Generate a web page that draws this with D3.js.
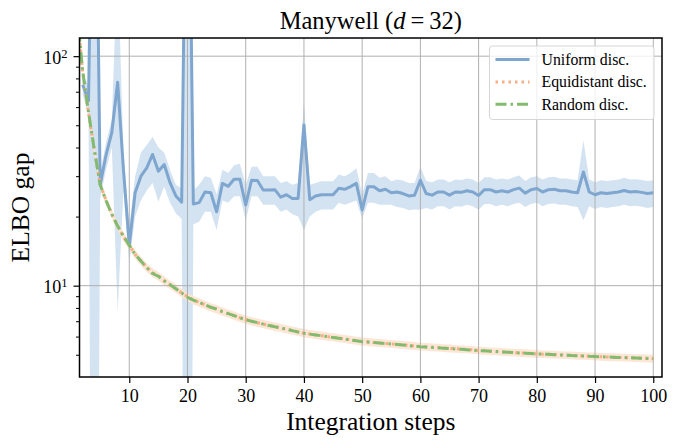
<!DOCTYPE html>
<html>
<head>
<meta charset="utf-8">
<script src="https://cdn.jsdelivr.net/npm/d3@7"></script>
<style>
  body { margin: 0; background: #fff; }
  svg text { font-family: "Liberation Serif", "DejaVu Serif", serif; fill: #000; }
</style>
</head>
<body>
<div id="chart"></div>
<script>

/**
 *  ELBO gap vs integration steps (Manywell, d = 32).
 */

// integration steps, 1 .. 100
var steps = d3.range(1, 101);

// Uniform discretisation: mean and band (null = no value)
var uniformMean = [null,
    75, 64, 3000, 27.5, 37, 46.5, 77, 32, 15,
    25.4, 30, 32.6, 37.3, 31.5, 33.7, 28.1, 24.6, 23.1, 3000,
    22.7, 23.0, 25.6, 25.4, 21.0, 27.9, 27.1, 29.1, 29.1, 22.5,
    28.8, 28.7, 26.1, 26.1, 26.2, 24.3, 24.9, 24.0, 24.0, 50.1,
    23.7, 24.6, 24.9, 24.9, 24.9, 26.6, 26.3, 27.0, 27.9, 21.4,
    27.0, 27.0, 25.9, 26.3, 25.4, 25.6, 25.2, 24.6, 24.8, 28.8,
    25.2, 24.8, 25.6, 25.6, 24.8, 25.6, 25.5, 25.9, 25.6, 24.7,
    26.2, 26.2, 25.6, 25.9, 25.6, 26.2, 26.6, 25.3, 26.2, 26.5,
    25.6, 26.2, 26.3, 25.9, 25.9, 25.6, 25.4, 31.3, 25.6, 24.9,
    25.4, 25.2, 25.4, 25.6, 26.0, 25.6, 25.7, 25.5, 25.2, 25.4];

var uniformLow = [null,
    68, 55, 0.001, 24, 32, 40, 7.7, 26, 12.5,
    20, 23.5, 26, 28, 23.2, 27, 23, 20.7, 19.5, 0.001,
    18.5, 19, 21, 21, 17.5, 23.5, 23, 24.5, 24.5, 19.3,
    24.5, 24.5, 22.5, 22.5, 22.5, 21, 21.5, 20.5, 20, 17.5,
    20, 21, 21.5, 21.5, 21.5, 23, 22.5, 23, 23.5, 19.6,
    23, 23, 22.5, 22.5, 22.5, 22, 21.8, 21.3, 21.5, 21.4,
    21.8, 21.5, 22.2, 22.2, 21.5, 22.2, 22.1, 22.5, 22.2, 21.4,
    22.7, 22.7, 22.2, 22.5, 22.2, 22.7, 23, 22, 22.7, 23,
    22.2, 22.7, 22.8, 22.5, 22.5, 22.2, 22, 19.3, 22.2, 21.6,
    22, 21.8, 22, 22.2, 22.5, 22.2, 22.3, 22.1, 21.8, 22];

var uniformHigh = [null,
    83, 75, 100000, 31, 42, 53, 260, 38, 18,
    30, 38, 41, 44.5, 40, 38, 32, 27.5, 26.5, 100000,
    26, 27.5, 30, 29.5, 25, 32, 31, 33.5, 34, 27.5,
    33, 33, 30, 30, 30, 28, 28.5, 27.5, 28, 63,
    27.5, 28, 28.5, 28.5, 28.5, 30.5, 30, 31, 32.5, 25,
    31, 31, 29.5, 30, 28.5, 29, 28.7, 28, 28, 33,
    28.6, 28.2, 29, 29, 28.2, 29, 28.9, 29.3, 29, 28,
    29.7, 29.7, 29, 29.3, 29, 29.7, 30.2, 28.6, 29.7, 30,
    29, 29.7, 29.8, 29.3, 29.3, 29, 28.8, 43, 29, 28.2,
    28.8, 28.6, 28.8, 29, 29.5, 29, 29.1, 28.9, 28.6, 28.8];

// Equidistant discretisation: mean and spread
var equiMean = [158,
    85, 56.5, 39, 27.6, 23.6, 20.5, 18.2, 16.4, 15.0,
    13.7, 12.8, 12.0, 11.4, 11.0, 10.5, 10.1, 9.7, 9.3, 8.95,
    8.65, 8.45, 8.25, 8.05, 7.9, 7.72, 7.56, 7.4, 7.25, 7.12,
    7.0, 6.9, 6.8, 6.72, 6.63, 6.55, 6.46, 6.38, 6.29, 6.21,
    6.16, 6.11, 6.06, 6.0, 5.96, 5.91, 5.86, 5.81, 5.76, 5.71,
    5.69, 5.66, 5.63, 5.6, 5.58, 5.55, 5.52, 5.49, 5.46, 5.43,
    5.41, 5.39, 5.37, 5.35, 5.33, 5.31, 5.29, 5.27, 5.25, 5.22,
    5.2, 5.18, 5.17, 5.15, 5.13, 5.11, 5.1, 5.08, 5.06, 5.05,
    5.03, 5.02, 5.01, 4.99, 4.98, 4.97, 4.95, 4.94, 4.93, 4.92,
    4.9, 4.89, 4.88, 4.87, 4.86, 4.85, 4.84, 4.83, 4.82, 4.81];

var equiSpread = [6,
    3.5, 2.4, 1.7, 1.2, 1.0, 0.9, 0.8, 0.7, 0.65,
    0.6, 0.56, 0.52, 0.5, 0.48, 0.46, 0.44, 0.42, 0.4, 0.38,
    0.37, 0.36, 0.35, 0.34, 0.33, 0.32, 0.32, 0.31, 0.3, 0.3,
    0.29, 0.29, 0.28, 0.28, 0.28, 0.27, 0.27, 0.26, 0.26, 0.26,
    0.25, 0.25, 0.25, 0.25, 0.24, 0.24, 0.24, 0.24, 0.23, 0.23,
    0.23, 0.23, 0.23, 0.22, 0.22, 0.22, 0.22, 0.22, 0.22, 0.21,
    0.21, 0.21, 0.21, 0.21, 0.21, 0.21, 0.2, 0.2, 0.2, 0.2,
    0.2, 0.2, 0.2, 0.2, 0.2, 0.2, 0.2, 0.2, 0.2, 0.2,
    0.19, 0.19, 0.19, 0.19, 0.19, 0.19, 0.19, 0.19, 0.19, 0.19,
    0.19, 0.19, 0.19, 0.19, 0.19, 0.19, 0.19, 0.19, 0.19, 0.19];

// Random discretisation: mean
var randomMean = [160,
    86, 57, 39, 27.5, 23.5, 20.5, 18.2, 16.4, 15.0,
    13.7, 12.8, 12.0, 11.3, 11.0, 10.5, 10.1, 9.7, 9.3, 8.9,
    8.65, 8.45, 8.25, 8.05, 7.9, 7.7, 7.55, 7.4, 7.25, 7.1,
    7.0, 6.9, 6.8, 6.7, 6.62, 6.55, 6.45, 6.37, 6.28, 6.2,
    6.15, 6.1, 6.05, 6.0, 5.95, 5.9, 5.85, 5.8, 5.75, 5.7,
    5.68, 5.65, 5.62, 5.6, 5.57, 5.54, 5.51, 5.48, 5.45, 5.42,
    5.4, 5.38, 5.36, 5.34, 5.32, 5.3, 5.28, 5.26, 5.24, 5.21,
    5.2, 5.18, 5.16, 5.14, 5.13, 5.11, 5.09, 5.08, 5.06, 5.04,
    5.03, 5.02, 5.0, 4.99, 4.98, 4.96, 4.95, 4.94, 4.92, 4.91,
    4.9, 4.89, 4.88, 4.87, 4.86, 4.85, 4.84, 4.83, 4.82, 4.8];

var xTicks = [10, 20, 30, 40, 50, 60, 70, 80, 90, 100];
var yTicks = [10, 100];
var yMinorTicks = [5, 6, 7, 8, 9, 20, 30, 40, 50, 60, 70, 80, 90];

var legendLabels = ["Uniform disc.", "Equidistant disc.", "Random disc."];

(function(d3) {

    var W = 680, H = 448;
    var margin = {top: 38, right: 18, bottom: 71, left: 79.5},
        width = W - margin.left - margin.right,
        height = H - margin.top - margin.bottom;

    var colors = {
        uniform: "#7ea6cf", uniformBand: "#d4e3f1",
        equi: "#f7ad85", equiBand: "#fde3d0",
        random: "#82bb6f"
    };

    var svg = d3.select("#chart").append("svg")
        .attr("width", W)
        .attr("height", H);

    var g = svg.append("g")
        .attr("transform", "translate(" + margin.left + "," + margin.top + ")");

    // Scales
    var x = d3.scaleLinear().domain([1.45, 101.5]).range([0, width]);
    var y = d3.scaleLog().domain([4.0, 120]).range([height, 0]);

    g.append("clipPath").attr("id", "plotclip")
        .append("rect").attr("width", width).attr("height", height);

    // Rows
    var rows = steps.map(function(k, i) {
        return {
            k: k,
            um: uniformMean[i], ul: uniformLow[i], uh: uniformHigh[i],
            em: equiMean[i], el: equiMean[i] - equiSpread[i], eh: equiMean[i] + equiSpread[i],
            rm: randomMean[i]
        };
    });

    var plot = g.append("g").attr("clip-path", "url(#plotclip)");

    // Bands
    var uniformArea = d3.area()
        .defined(function(d) { return d.um !== null; })
        .x(function(d) { return x(d.k); })
        .y0(function(d) { return y(d.ul); })
        .y1(function(d) { return y(d.uh); });

    var equiArea = d3.area()
        .x(function(d) { return x(d.k); })
        .y0(function(d) { return y(d.el); })
        .y1(function(d) { return y(d.eh); });

    plot.append("path").attr("d", uniformArea(rows))
        .attr("fill", colors.uniformBand);
    plot.append("path").attr("d", equiArea(rows))
        .attr("fill", colors.equiBand).attr("fill-opacity", 0.9);

    // Grid
    var grid = plot.append("g").attr("stroke", "#b0b0b0").attr("stroke-width", 1);
    grid.selectAll(".gx").data(xTicks).enter().append("line")
        .attr("x1", function(d) { return x(d); }).attr("x2", function(d) { return x(d); })
        .attr("y1", 0).attr("y2", height);
    grid.selectAll(".gy").data(yTicks).enter().append("line")
        .attr("y1", function(d) { return y(d); }).attr("y2", function(d) { return y(d); })
        .attr("x1", 0).attr("x2", width);

    // Lines
    var lineOf = function(key) {
        return d3.line()
            .defined(function(d) { return d[key] !== null; })
            .x(function(d) { return x(d.k); })
            .y(function(d) { return y(d[key]); });
    };

    plot.append("path").attr("d", lineOf("um")(rows))
        .attr("fill", "none").attr("stroke", colors.uniform)
        .attr("stroke-width", 3).attr("stroke-linejoin", "round");

    plot.append("path").attr("d", lineOf("em")(rows))
        .attr("fill", "none").attr("stroke", colors.equi)
        .attr("stroke-width", 3).attr("stroke-dasharray", "2.5,4");

    plot.append("path").attr("d", lineOf("rm")(rows))
        .attr("fill", "none").attr("stroke", colors.random)
        .attr("stroke-width", 3).attr("stroke-dasharray", "11,4,2.5,4");

    // Axes
    var xAxis = d3.axisBottom(x).tickValues(xTicks).tickSize(6).tickPadding(6);
    var gx = g.append("g")
        .attr("transform", "translate(0," + height + ")")
        .call(xAxis);
    gx.selectAll("text").style("font-size", "18px");

    var yAxis = d3.axisLeft(y).tickValues(yTicks).tickSize(6).tickPadding(6)
        .tickFormat(function() { return ""; });
    var gy = g.append("g").call(yAxis);
    gy.selectAll(".tick text").each(function(d) {
        var t = d3.select(this).style("font-size", "18px");
        t.append("tspan").text("10");
        t.append("tspan").attr("dy", "-0.45em").style("font-size", "12.5px")
            .text(Math.round(Math.log10(d)));
    });
    gy.selectAll(".tick text").attr("dy", "0.38em");

    var yMinor = d3.axisLeft(y).tickValues(yMinorTicks).tickSize(3.5)
        .tickFormat(function() { return ""; });
    g.append("g").call(yMinor).select(".domain").remove();

    [gx, gy].forEach(function(a) {
        a.select(".domain").remove();
        a.selectAll(".tick line").attr("stroke-width", 1.2);
    });
    g.selectAll(".tick line").attr("stroke", "#000");

    // Frame
    g.append("rect").attr("width", width).attr("height", height)
        .attr("fill", "none").attr("stroke", "#000").attr("stroke-width", 1.5);

    // Title and labels
    var title = svg.append("text")
        .attr("x", margin.left + width / 2).attr("y", 28.5)
        .attr("text-anchor", "middle").style("font-size", "24.5px");
    title.append("tspan").text("Manywell (");
    title.append("tspan").style("font-style", "italic").text("d");
    title.append("tspan").text("\u2009=\u200932)");

    svg.append("text")
        .attr("x", margin.left + width / 2).attr("y", 430)
        .attr("text-anchor", "middle").style("font-size", "25.5px")
        .text("Integration steps");

    svg.append("text")
        .attr("transform", "translate(29," + (margin.top + height / 2) + ") rotate(-90)")
        .attr("text-anchor", "middle").style("font-size", "25.5px")
        .text("ELBO gap");

    // Legend
    var lg = svg.append("g").attr("transform", "translate(489.5,46)");
    lg.append("rect").attr("width", 164.5).attr("height", 73.5)
        .attr("rx", 3).attr("fill", "#fff").attr("fill-opacity", 0.8)
        .attr("stroke", "#d6d6d6").attr("stroke-width", 1);

    var legendStyles = [
        {color: colors.uniform, dash: null},
        {color: colors.equi, dash: "2.5,4"},
        {color: colors.random, dash: "11,4,2.5,4"}
    ];

    legendLabels.forEach(function(label, i) {
        var yy = 13.5 + i * 22.4;
        var ln = lg.append("line")
            .attr("x1", 6).attr("x2", 40).attr("y1", yy).attr("y2", yy)
            .attr("stroke", legendStyles[i].color).attr("stroke-width", 3);
        if (legendStyles[i].dash) ln.attr("stroke-dasharray", legendStyles[i].dash);
        lg.append("text").attr("x", 52).attr("y", yy + 5.5)
            .style("font-size", "15.8px").text(label);
    });

})(d3);
</script>
</body>
</html>
